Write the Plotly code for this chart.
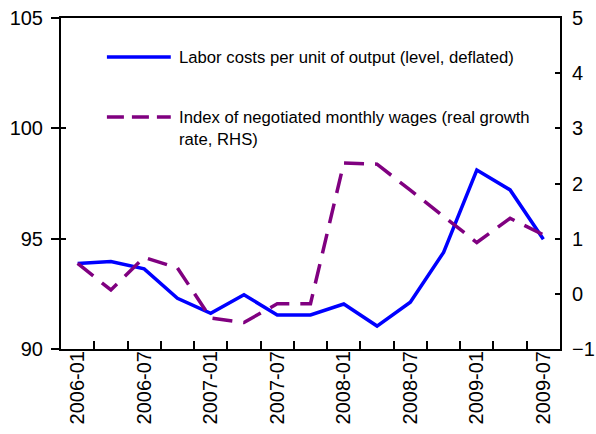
import plotly.graph_objects as go

quarters = ["2006-01", "2006-04", "2006-07", "2006-10",
            "2007-01", "2007-04", "2007-07", "2007-10",
            "2008-01", "2008-04", "2008-07", "2008-10",
            "2009-01", "2009-04", "2009-07"]
labor_costs = [93.88, 93.96, 93.63, 92.30, 91.62, 92.46, 91.54, 91.54,
               92.04, 91.04, 92.12, 94.38, 98.11, 97.21, 94.97]
wages_growth = [0.55, 0.07, 0.66, 0.47, -0.44, -0.52, -0.18, -0.18,
                2.37, 2.35, 1.88, 1.40, 0.93, 1.37, 1.07]

name_labor = "Labor costs per unit of output (level, deflated)"
name_wages = "Index of negotiated monthly wages (real growth<br>rate, RHS)"

BLUE = "#0000FF"
PURPLE = "#800080"
FONT = "Arial, Liberation Sans, sans-serif"

xidx = list(range(len(quarters)))

fig = go.Figure()
fig.add_trace(go.Scatter(x=xidx, y=labor_costs, mode="lines", name=name_labor,
                         line=dict(color=BLUE, width=3.5), showlegend=False))
fig.add_trace(go.Scatter(x=xidx, y=wages_growth, mode="lines", name=name_wages,
                         line=dict(color=PURPLE, width=3.5, dash="20px,11px"),
                         yaxis="y2", showlegend=False))

# legend drawn as line samples + text
fig.add_shape(type="line", xref="paper", yref="paper", x0=0.092, x1=0.220,
              y0=0.882, y1=0.882, line=dict(color=BLUE, width=3.5))
fig.add_shape(type="line", xref="paper", yref="paper", x0=0.092, x1=0.220,
              y0=0.701, y1=0.701, line=dict(color=PURPLE, width=3.5, dash="17px,8px"))
fig.add_annotation(xref="paper", yref="paper", x=0.232, y=0.882, text=name_labor,
                   showarrow=False, xanchor="left", yanchor="middle", align="left",
                   font=dict(family=FONT, size=16.7, color="black"))
fig.add_annotation(xref="paper", yref="paper", x=0.232, y=0.733, text=name_wages,
                   showarrow=False, xanchor="left", yanchor="top", align="left",
                   font=dict(family=FONT, size=16.7, color="black"))

fig.update_layout(
    width=596, height=434,
    margin=dict(l=61, r=36, t=18, b=85, autoexpand=False),
    paper_bgcolor="white", plot_bgcolor="white",
    font=dict(family=FONT, size=20, color="black"),
    showlegend=False,
    xaxis=dict(
        range=[-0.5, len(quarters) - 0.5], automargin=False,
        tickmode="array", tickvals=xidx[::2], ticktext=quarters[::2],
        tickangle=-90, ticks="", showgrid=False, zeroline=False,
        ticklabelstandoff=-8, ticklabeloverflow="allow",
        showline=True, linecolor="black", linewidth=2, mirror=True,
        minor=dict(tickmode="array", tickvals=[i + 0.5 for i in xidx[:-1]],
                   ticks="inside", ticklen=8, tickcolor="black", tickwidth=1.5,
                   showgrid=False),
        tickfont=dict(size=20),
    ),
    yaxis=dict(
        range=[90, 105], tickmode="linear", tick0=90, dtick=5, automargin=False,
        ticks="outside", ticklen=8, tickwidth=1.5, tickcolor="black",
        ticklabelstandoff=4, ticklabeloverflow="allow",
        showgrid=False, zeroline=False,
        showline=True, linecolor="black", linewidth=2,
        tickfont=dict(size=20),
    ),
    yaxis3=dict(
        range=[90, 105], tickmode="linear", tick0=90, dtick=5, automargin=False,
        overlaying="y", side="left",
        ticks="inside", ticklen=5, tickwidth=1.5, tickcolor="black",
        showticklabels=False, showgrid=False, zeroline=False, showline=False,
    ),
    yaxis2=dict(
        range=[-1, 5], tickmode="linear", tick0=-1, dtick=1, automargin=False,
        overlaying="y", side="right",
        ticks="inside", ticklen=5, tickwidth=1.5, tickcolor="black",
        ticklabelstandoff=6, ticklabeloverflow="allow",
        showgrid=False, zeroline=False,
        showline=True, linecolor="black", linewidth=2,
        tickfont=dict(size=20),
    ),
)
# invisible helper trace that activates the inner-tick axis
fig.add_trace(go.Scatter(x=[xidx[0]], y=[labor_costs[0]], yaxis="y3", mode="lines",
                         line=dict(width=0), hoverinfo="skip", showlegend=False))

fig.write_html("out.html", config={"displayModeBar": False},
               post_script="document.body.style.margin='0';document.body.style.overflow='hidden';")
